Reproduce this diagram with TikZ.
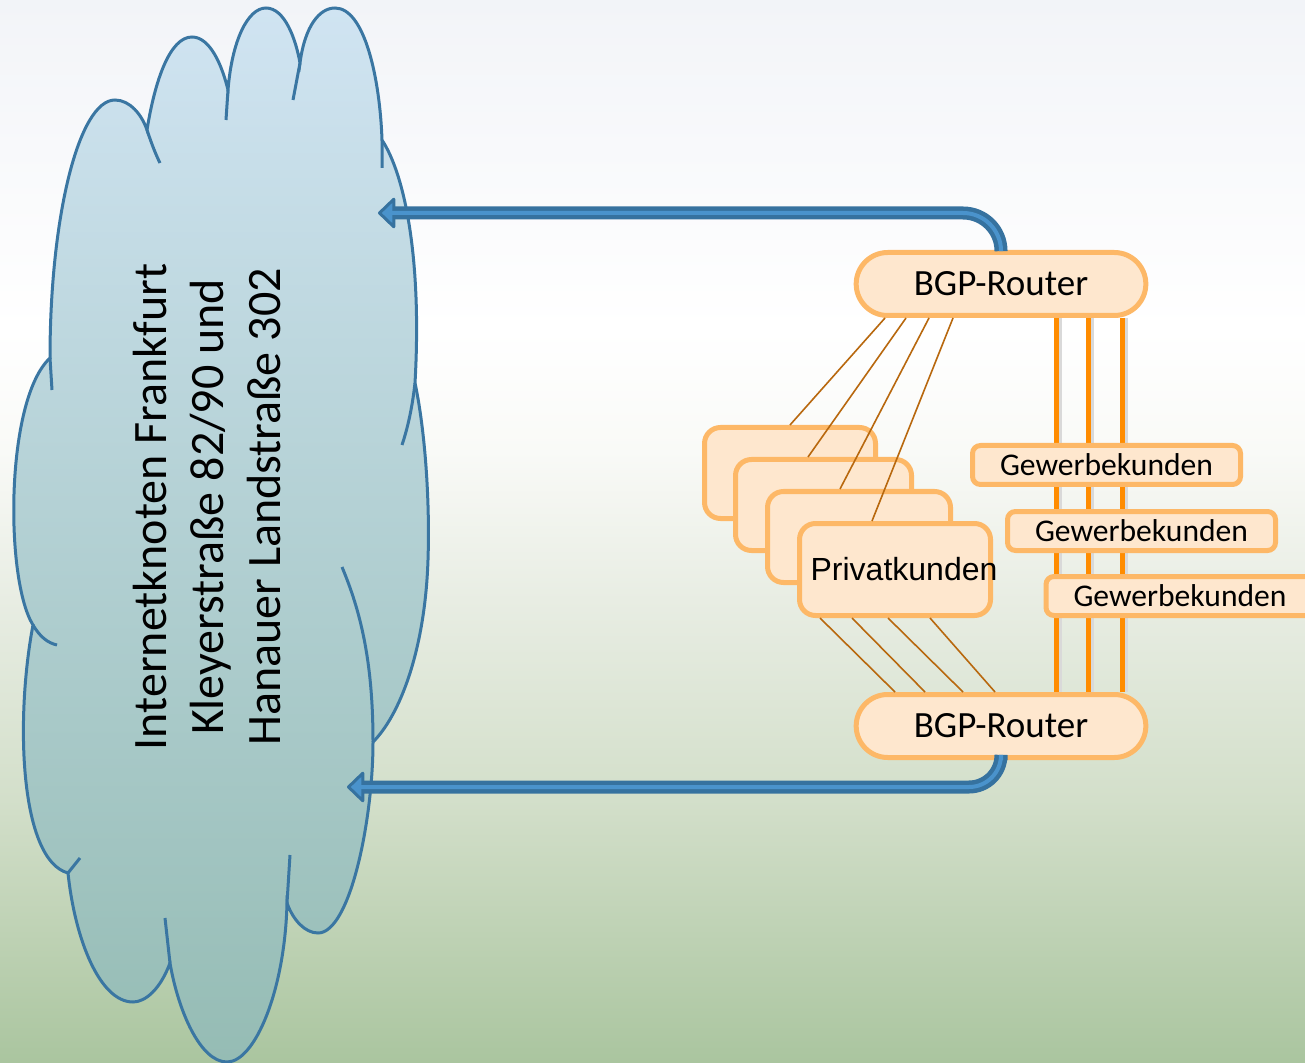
\documentclass[tikz,border=0pt]{standalone}
\usepackage{fontspec}
\setmainfont{Carlito}
\newfontfamily\arialfont{Liberation Sans}
\usetikzlibrary{shapes.misc, arrows.meta}

\definecolor{peach}{HTML}{FEE7CE}
\definecolor{orangeline}{HTML}{FDB867}
\definecolor{brownline}{HTML}{B8680E}
\definecolor{trunkorange}{HTML}{FF8C00}
\definecolor{pipedark}{HTML}{36729F}
\definecolor{pipelight}{HTML}{4A93CC}
\definecolor{cloudline}{HTML}{3A76A2}
\definecolor{cloudtop}{HTML}{D0E4F2}
\definecolor{cloudbot}{HTML}{95BCB4}
\definecolor{bgtop}{HTML}{F2F4F8}
\definecolor{bgtopb}{HTML}{F8F9FB}
\definecolor{bgpale}{HTML}{F9FAF7}
\definecolor{bgmid}{HTML}{E8EDE3}
\definecolor{bglow}{HTML}{D3DFCA}
\definecolor{bgbot}{HTML}{AAC59F}

\pgfdeclareverticalshading{backdrop}{100bp}{color(0bp)=(bgbot); color(25bp)=(bgbot);
  color(37.4bp)=(bglow); color(46.8bp)=(bgmid); color(53.8bp)=(bgpale);
  color(59.5bp)=(white); color(68bp)=(bgtopb); color(75bp)=(bgtop); color(100bp)=(bgtop)}

\begin{document}
\begin{tikzpicture}[x=0.5pt, y=-0.5pt,
  router/.style={rounded rectangle, draw=orangeline, fill=peach, line width=2.5pt,
    minimum width=151.5pt, minimum height=31.5pt, font=\fontsize{18.5}{20}\selectfont},
  privat/.style={rectangle, rounded corners=8pt, draw=orangeline, fill=peach, line width=2.5pt,
    minimum height=45.5pt, inner sep=0pt, font=\arialfont\fontsize{16}{18}\selectfont},
  kunde/.style={rectangle, rounded corners=4pt, draw=orangeline, fill=peach, line width=2.5pt,
    minimum width=134pt, minimum height=19.5pt, inner sep=0pt, font=\fontsize{15.8}{17}\selectfont},
  feed/.style={draw=brownline, line width=0.8pt},
  trunk/.style={draw=trunkorange, line width=2.5pt,
    preaction={draw=black!15, line width=2.5pt, transform canvas={xshift=1.5pt}}},
  pipe/.style={draw=pipedark, line width=6.5pt,
    -{Triangle[length=9pt, width=17pt, fill=pipelight, line width=1.5pt, round]},
    postaction={draw=pipelight, line width=2pt, -, shorten >=5pt}},
  wolke/.style={draw=cloudline, line width=1.5pt, top color=cloudtop, bottom color=cloudbot},
  wolkenrand/.style={draw=cloudline, line width=1.5pt}]

\useasboundingbox (0,0) rectangle (1305,1063);
\shade[shading=backdrop] (0,0) rectangle (1305,1063);

% Wolke
\draw[wolke] (50,358) .. controls (50,216) and (79,100) .. (115,100)
  .. controls (130,100) and (142,115) .. (147,130)
  .. controls (155,80) and (170,37) .. (192,37)
  .. controls (210,37) and (222,65) .. (228,90)
  .. controls (232,40) and (248,8) .. (266,8)
  .. controls (285,8) and (296,40) .. (300,63)
  .. controls (305,25) and (320,8) .. (335,8)
  .. controls (365,8) and (380,80) .. (382,140)
  .. controls (405,175) and (422,260) .. (415,383)
  .. controls (425,430) and (430,500) .. (428,560)
  .. controls (425,650) and (400,715) .. (373,742)
  .. controls (373,820) and (350,933) .. (318,933)
  .. controls (305,933) and (293,920) .. (287,903)
  .. controls (285,990) and (255,1062) .. (227,1062)
  .. controls (200,1062) and (178,1010) .. (170,963)
  .. controls (160,990) and (145,1002) .. (133,1002)
  .. controls (100,1002) and (75,940) .. (68,873)
  .. controls (20,860) and (15,720) .. (33,625)
  .. controls (5,580) and (5,400) .. (50,358) -- cycle;
\draw[wolkenrand] (50,358) -- (52,390)
  (147,130) .. controls (152,145) and (156,155) .. (160,163)
  (228,90) -- (226,120)
  (300,63) -- (293,100)
  (382,140) -- (382,168)
  (415,383) .. controls (412,410) and (407,430) .. (402,445)
  (373,742) .. controls (373,660) and (360,610) .. (342,567)
  (287,903) -- (290,855)
  (170,963) -- (165,918)
  (68,873) -- (80,858)
  (33,625) .. controls (40,637) and (48,643) .. (57,645);
\node[rotate=90, align=center, font=\fontsize{24}{28.5}\selectfont](IX) at (207,507)
  {Internetknoten Frankfurt\\Kleyerstraße 82/90 und\\Hanauer Landstraße 302};

\node[router](R1) at (1001,284) {BGP-Router};
\node[router](R2) at (1001,726) {BGP-Router};

\node[privat, minimum width=85.5pt](P1) at (790,473) {};
\node[privat, minimum width=88pt](P2) at (823.5,505) {};
\node[privat, minimum width=91.5pt](P3) at (859,537) {};
\node[privat, minimum width=95.5pt, minimum height=46pt](P4) at (895,569.5) {\hspace*{9pt}\makebox[0pt]{Privatkunden}};

\draw[feed] ([xshift=-58pt]R1.south) -- (P1.north);
\draw[feed] ([xshift=-47.5pt]R1.south) -- ([xshift=-7.75pt]P2.north);
\draw[feed] ([xshift=-36pt]R1.south) -- ([xshift=-9.5pt]P3.north);
\draw[feed] ([xshift=-24pt]R1.south) -- ([xshift=-11.5pt]P4.north);
\draw[feed] ([xshift=-37.5pt]P4.south) -- ([xshift=-53pt]R2.north);
\draw[feed] ([xshift=-21.5pt]P4.south) -- ([xshift=-38pt]R2.north);
\draw[feed] ([xshift=-3.5pt]P4.south) -- ([xshift=-19pt]R2.north);
\draw[feed] ([xshift=17.5pt]P4.south) -- ([xshift=-3pt]R2.north);

\draw[trunk] ([xshift=27.5pt]R1.south) -- ([xshift=27.5pt]R2.north);
\draw[trunk] ([xshift=43.5pt]R1.south) -- ([xshift=43.5pt]R2.north);
\draw[trunk] ([xshift=60.5pt]R1.south) -- ([xshift=60.5pt]R2.north);

\node[kunde](G1) at (1106.5,465) {Gewerbekunden};
\node[kunde](G2) at (1141.5,531) {Gewerbekunden};
\node[kunde](G3) at (1180,596) {Gewerbekunden};

\coordinate (T1) at (378,213);
\coordinate (T2) at (347,787);
\draw[pipe, rounded corners=19pt] (R1.north) |- (T1);
\draw[pipe, rounded corners=16pt] (R2.south) |- (T2);
\end{tikzpicture}
\end{document}
